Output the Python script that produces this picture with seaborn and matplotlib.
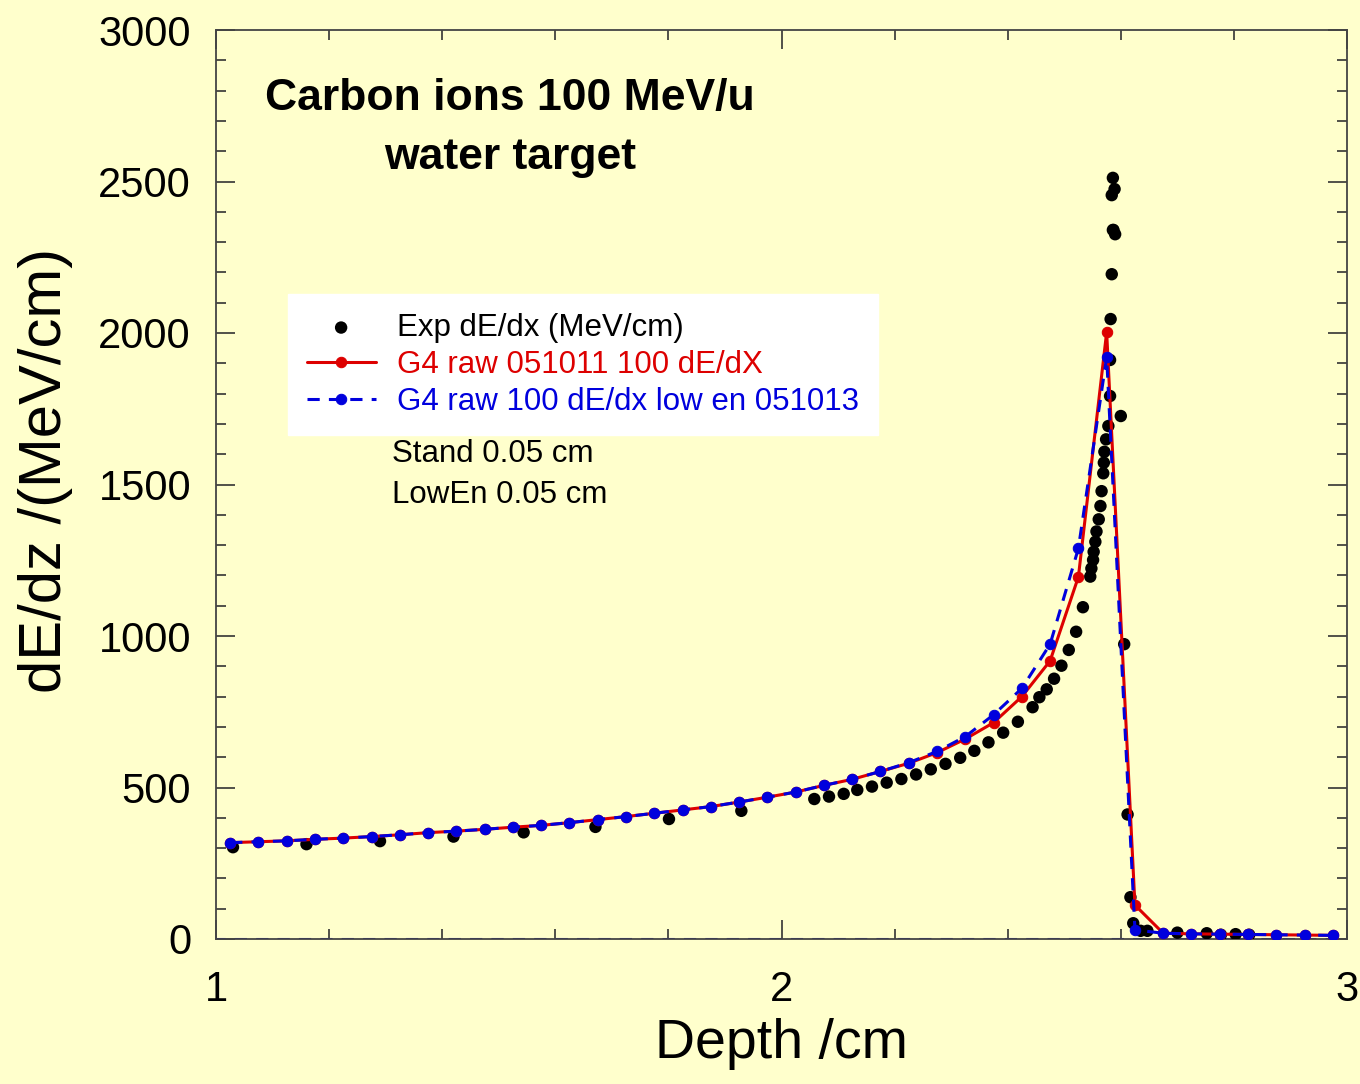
import numpy as np
import pandas as pd
import matplotlib
matplotlib.use("Agg")
import matplotlib.pyplot as plt
import seaborn as sns
from matplotlib.ticker import MultipleLocator

# ---------------- data ----------------
exp_x = [1.03, 1.16, 1.29, 1.42, 1.544, 1.671, 1.801, 1.929,
         2.058, 2.084, 2.110, 2.134, 2.16, 2.186, 2.212, 2.238, 2.264, 2.29, 2.316, 2.341,
         2.366, 2.392, 2.418, 2.444, 2.456, 2.469, 2.482, 2.495, 2.508, 2.521, 2.533, 2.546,
         2.548, 2.551, 2.552, 2.555, 2.557, 2.561, 2.564, 2.566, 2.569, 2.570, 2.571, 2.574,
         2.578, 2.581, 2.581, 2.582, 2.584, 2.586, 2.584, 2.590, 2.586, 2.589, 2.587,
         2.600, 2.606, 2.612, 2.617, 2.622, 2.635, 2.647, 2.700, 2.752, 2.777, 2.803, 2.827]
exp_y = [303, 313, 323, 338, 352, 370, 396, 423,
         462, 470, 479, 492, 503, 516, 528, 543, 560, 578, 598, 621,
         649, 681, 717, 765, 798, 824, 859, 902, 954, 1014, 1095, 1196,
         1223, 1251, 1278, 1311, 1345, 1385, 1429, 1478, 1537, 1572, 1608, 1649,
         1693, 1792, 1911, 2046, 2194, 2340, 2455, 2326, 2512, 2475, 2340,
         1726, 973, 411, 138, 52, 27, 27, 21, 19, 14, 16, 14]

g4_x = [1.025, 1.075, 1.125, 1.175, 1.225, 1.275, 1.325, 1.375, 1.425, 1.475,
        1.525, 1.575, 1.625, 1.675, 1.725, 1.775, 1.825, 1.875, 1.925, 1.975,
        2.025, 2.075, 2.125, 2.175, 2.225, 2.275, 2.325, 2.375, 2.425, 2.475,
        2.525, 2.575, 2.625, 2.675, 2.725, 2.775, 2.825, 2.875, 2.925, 2.975]
g4_std_y = [318, 321, 324, 329, 333, 338, 344, 351, 356, 362,
            369, 375, 384, 394, 404, 415, 426, 437, 452, 468,
            485, 507, 527, 553, 580, 615, 660, 714, 800, 918,
            1195, 2003, 112, 19, 17, 16, 15, 14, 13, 12]
g4_low_y = [318, 321, 324, 329, 333, 338, 344, 351, 356, 362,
            369, 375, 384, 394, 404, 415, 426, 437, 452, 468,
            485, 507, 527, 553, 582, 619, 668, 740, 827, 973,
            1289, 1921, 30, 19, 17, 16, 15, 14, 13, 12]

base_x = [0.5, 3.5]
base_y = [0, 0]

# ---------------- style ----------------
BG = "#FFFFCC"
sns.set_theme(style="ticks", rc={"axes.facecolor": BG, "figure.facecolor": BG})
plt.rcParams["font.family"] = ["Liberation Sans", "DejaVu Sans"]
plt.rcParams["text.color"] = "black"
plt.rcParams["axes.labelcolor"] = "black"

RED = "#DD0000"
BLUE = "#0000DD"

fig = plt.figure(figsize=(13.6, 10.84), dpi=100)
ax = fig.add_axes([216/1360, 1 - 939/1084, (1347 - 216)/1360, (939 - 30)/1084])

df_exp = pd.DataFrame({"x": exp_x, "y": exp_y})
df_std = pd.DataFrame({"x": g4_x, "y": g4_std_y})
df_low = pd.DataFrame({"x": g4_x, "y": g4_low_y})
df_base = pd.DataFrame({"x": base_x, "y": base_y})

sns.lineplot(data=df_base, x="x", y="y", ax=ax, color=BLUE, lw=2.2,
             linestyle=(0, (4, 3)), legend=False, zorder=2)
sns.scatterplot(data=df_exp, x="x", y="y", ax=ax, color="black", s=80,
                edgecolor="none", zorder=3, label="Exp dE/dx (MeV/cm)")
sns.lineplot(data=df_std, x="x", y="y", ax=ax, color=RED, lw=2.2, marker="o",
             markersize=7.5, markeredgecolor=RED, sort=False, zorder=4,
             label="G4 raw 051011 100 dE/dX")
sns.lineplot(data=df_low, x="x", y="y", ax=ax, color=BLUE, lw=2.2, marker="o",
             markersize=7.5, markeredgecolor=BLUE, sort=False, zorder=5,
             linestyle=(0, (4, 3)), label="G4 raw 100 dE/dx low en 051013")

ax.set_xlim(1, 3)
ax.set_ylim(0, 3000)
ax.xaxis.set_major_locator(MultipleLocator(1))
ax.xaxis.set_minor_locator(MultipleLocator(0.2))
ax.yaxis.set_major_locator(MultipleLocator(500))
ax.yaxis.set_minor_locator(MultipleLocator(100))
ax.tick_params(which="both", direction="in", top=True, right=True, colors="#333333",
               labelcolor="black", width=1.2)
ax.tick_params(which="major", length=14, labelsize=30)
ax.tick_params(axis="y", which="major", pad=18)
ax.tick_params(axis="x", which="major", pad=22)
ax.tick_params(which="minor", length=7)
for s in ax.spines.values():
    s.set_color("#444444")
    s.set_linewidth(1.3)

ax.set_xlabel("Depth /cm", fontsize=40, labelpad=6)
ax.set_ylabel("dE/dz /(MeV/cm)", fontsize=43)
ax.yaxis.set_label_coords(-0.126, 0.515)

ax.text(0.26, 0.925, "Carbon ions 100 MeV/u", transform=ax.transAxes,
        fontsize=32, fontweight="bold", ha="center", va="center")
ax.text(0.26, 0.86, "water target", transform=ax.transAxes,
        fontsize=32, fontweight="bold", ha="center", va="center")
ax.text(392, 1084 - 454, "Stand 0.05 cm", transform=None, fontsize=22.5,
        ha="left", va="center")
ax.text(392, 1084 - 495, "LowEn 0.05 cm", transform=None, fontsize=22.5,
        ha="left", va="center")

leg = ax.legend(loc="upper left", bbox_to_anchor=((288 - 216)/1131, (939 - 294)/909),
                frameon=True, fancybox=False, fontsize=22.5, handlelength=2.2,
                handletextpad=0.7, borderpad=0.6, labelspacing=0.22, borderaxespad=0)
leg.get_frame().set_facecolor("white")
leg.get_frame().set_edgecolor("white")
leg.get_frame().set_alpha(1)
for t, c in zip(leg.get_texts(), ["black", RED, BLUE]):
    t.set_color(c)

fig.savefig("out.png", dpi=100, facecolor=BG)
